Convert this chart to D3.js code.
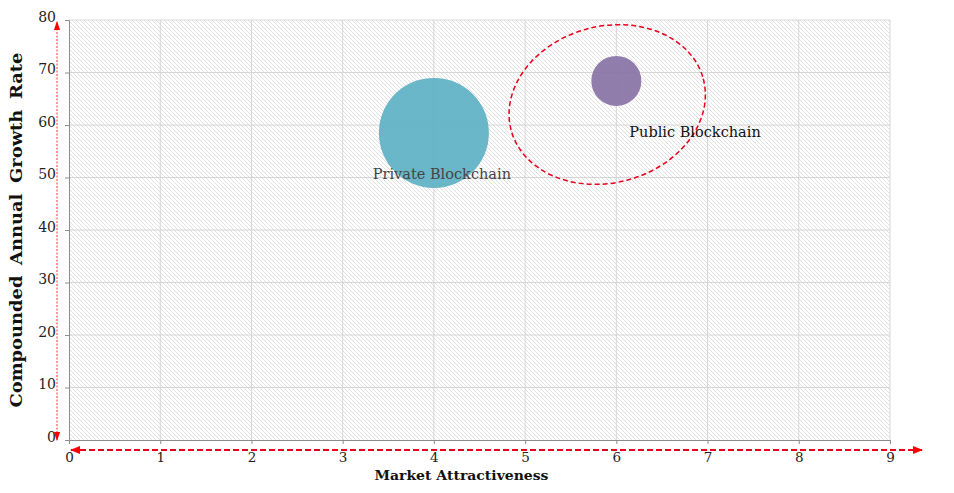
<!DOCTYPE html>
<html>

<head>
  <title>Blockchain Market Attractiveness</title>
  <meta charset="utf-8">
  <script src="https://d3js.org/d3.v7.min.js"></script>
  <style>
    body { margin: 0; background: #fff; }
    text { font-family: "DejaVu Serif", serif; }
  </style>
</head>

<body>
  <div id="chart"></div>

  <script>
    // chart values
    var segments = ["Private Blockchain", "Public Blockchain"];
    var attractiveness = [4.0, 6.0];
    var growthRate = [58.5, 68.4];
    var bubbleSize = [29, 6];
    var bubbleColors = ["#5fb2c5", "#8a74a6"];
    var xTicks = [0, 1, 2, 3, 4, 5, 6, 7, 8, 9];
    var yTicks = [0, 10, 20, 30, 40, 50, 60, 70, 80];
    // highlight ellipse around the public segment: [cx, cy, rx, ry] in data units
    var highlight = [5.9, 63.9, 1.09, 14.9];

    var width = 954, height = 493,
      margin = { top: 20, right: 64, bottom: 53, left: 69 };

    var svg = d3.select("#chart").append("svg")
      .attr("width", width)
      .attr("height", height);

    var x = d3.scaleLinear().domain([0, 9]).range([margin.left, width - margin.right]);
    var y = d3.scaleLinear().domain([0, 80]).range([height - margin.bottom, margin.top]);
    var r = d3.scaleSqrt().domain([0, 29]).range([0, 55]);

    var defs = svg.append("defs");

    // diagonal hatch for the plot background
    var hatch = defs.append("pattern")
      .attr("id", "hatch")
      .attr("patternUnits", "userSpaceOnUse")
      .attr("width", 4)
      .attr("height", 4);
    hatch.append("rect").attr("width", 4).attr("height", 4).attr("fill", "#fff");
    hatch.append("path")
      .attr("d", "M-1,-1 L5,5 M-1,3 L1,5 M3,-1 L5,1")
      .attr("stroke", "#dedede")
      .attr("stroke-width", 0.9);

    defs.append("marker")
      .attr("id", "arrowBig")
      .attr("viewBox", "0 0 10 10")
      .attr("refX", 9).attr("refY", 5)
      .attr("markerWidth", 10).attr("markerHeight", 10)
      .attr("markerUnits", "userSpaceOnUse")
      .attr("orient", "auto-start-reverse")
      .append("path")
      .attr("d", "M0,1 L10,5 L0,9 Z")
      .attr("fill", "#ff0000");

    defs.append("marker")
      .attr("id", "arrowThin")
      .attr("viewBox", "0 0 10 10")
      .attr("refX", 9).attr("refY", 5)
      .attr("markerWidth", 9).attr("markerHeight", 9)
      .attr("markerUnits", "userSpaceOnUse")
      .attr("orient", "auto-start-reverse")
      .append("path")
      .attr("d", "M0,1.5 L10,5 L0,8.5 Z")
      .attr("fill", "#ff0000");

    svg.append("rect")
      .attr("x", x(0))
      .attr("y", y(80))
      .attr("width", x(9) - x(0))
      .attr("height", y(0) - y(80))
      .attr("fill", "url(#hatch)");

    // gridlines
    svg.append("g").selectAll("line").data(xTicks.slice(1)).join("line")
      .attr("x1", d => x(d)).attr("x2", d => x(d))
      .attr("y1", y(0)).attr("y2", y(80))
      .attr("stroke", "#d6d6d6");

    svg.append("g").selectAll("line").data(yTicks.slice(1)).join("line")
      .attr("x1", x(0)).attr("x2", x(9))
      .attr("y1", d => y(d)).attr("y2", d => y(d))
      .attr("stroke", "#d6d6d6");

    // axes
    var xAxis = svg.append("g")
      .attr("transform", "translate(0," + y(0) + ")")
      .call(d3.axisBottom(x).tickValues(xTicks).tickSize(4).tickPadding(8).tickFormat(d3.format("d")));

    var yAxis = svg.append("g")
      .attr("transform", "translate(" + x(0) + ",0)")
      .call(d3.axisLeft(y).tickValues(yTicks).tickSize(4).tickPadding(9).tickFormat(d3.format("d")));

    [xAxis, yAxis].forEach(function(g) {
      g.select(".domain").attr("stroke", "#8c8c8c");
      g.selectAll(".tick line").attr("stroke", "#8c8c8c");
      g.selectAll(".tick text")
        .attr("fill", "#222")
        .style("font-family", "'DejaVu Serif', serif")
        .style("font-size", "14px");
    });
    xAxis.selectAll(".tick text").style("font-size", "13.5px");
    yAxis.selectAll(".tick text").attr("dy", "0.1em");

    // bubbles
    var bubbles = segments.map(function(name, i) {
      return { name: name, x: attractiveness[i], y: growthRate[i], size: bubbleSize[i], color: bubbleColors[i] };
    });

    svg.append("g").selectAll("circle").data(bubbles).join("circle")
      .attr("cx", d => x(d.x))
      .attr("cy", d => y(d.y))
      .attr("r", d => r(d.size))
      .attr("fill", d => d.color)
      .attr("fill-opacity", 0.93);

    // highlight ellipse
    svg.append("ellipse")
      .attr("cx", x(highlight[0]))
      .attr("cy", y(highlight[1]))
      .attr("rx", x(highlight[2]) - x(0))
      .attr("ry", y(0) - y(highlight[3]))
      .attr("transform", "rotate(-15," + x(highlight[0]) + "," + y(highlight[1]) + ")")
      .attr("fill", "none")
      .attr("stroke", "#e8001c")
      .attr("stroke-width", 1.5)
      .attr("stroke-dasharray", "5,3");

    // bubble labels
    svg.append("text")
      .attr("x", x(bubbles[0].x) + 8)
      .attr("y", y(bubbles[0].y) + 46)
      .attr("text-anchor", "middle")
      .attr("fill", "#444")
      .style("font-size", "14.5px")
      .text(bubbles[0].name);

    svg.append("text")
      .attr("x", x(bubbles[1].x) + 13)
      .attr("y", y(bubbles[1].y) + 56)
      .attr("fill", "#111")
      .style("font-size", "14.5px")
      .text(bubbles[1].name);

    // red dashed axis arrows
    svg.append("line")
      .attr("x1", x(0) - 12).attr("x2", x(0) - 12)
      .attr("y1", y(0)).attr("y2", y(80) + 2)
      .attr("stroke", "#ff3030")
      .attr("stroke-width", 1)
      .attr("stroke-dasharray", "2,1.5")
      .attr("marker-start", "url(#arrowThin)")
      .attr("marker-end", "url(#arrowThin)");

    svg.append("line")
      .attr("x1", x(0) + 2).attr("x2", x(9) + 32)
      .attr("y1", y(0) + 10).attr("y2", y(0) + 10)
      .attr("stroke", "#e8001c")
      .attr("stroke-width", 2)
      .attr("stroke-dasharray", "6,3")
      .attr("marker-start", "url(#arrowBig)")
      .attr("marker-end", "url(#arrowBig)");

    // axis titles
    svg.append("text")
      .attr("x", (x(0) + x(9)) / 2 - 18)
      .attr("y", height - 13)
      .attr("text-anchor", "middle")
      .attr("fill", "#111")
      .attr("textLength", 174)
      .attr("lengthAdjust", "spacingAndGlyphs")
      .style("font-size", "13px")
      .style("font-weight", "bold")
      .text("Market Attractiveness");

    svg.append("text")
      .attr("transform", "translate(22," + ((y(0) + y(80)) / 2) + ") rotate(-90)")
      .attr("text-anchor", "middle")
      .attr("fill", "#111")
      .attr("textLength", 355)
      .attr("lengthAdjust", "spacingAndGlyphs")
      .style("font-size", "16px")
      .style("font-weight", "bold")
      .style("word-spacing", "4px")
      .text("Compounded Annual Growth Rate");
  </script>
</body>
</html>
